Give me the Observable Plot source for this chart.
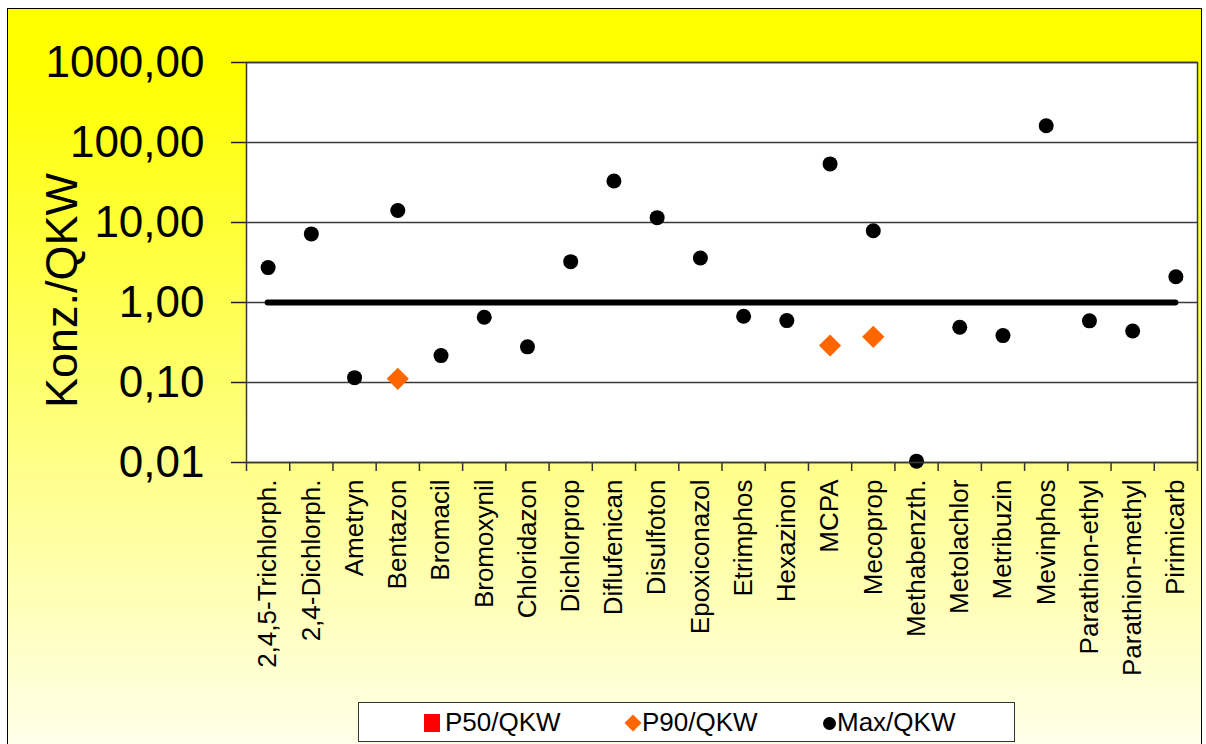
<!DOCTYPE html>
<html><head><meta charset="utf-8">
<script src="https://cdn.jsdelivr.net/npm/d3@7"></script>
<script src="https://cdn.jsdelivr.net/npm/@observablehq/plot@0.6"></script>
<style>
html,body{margin:0;padding:0;width:1206px;height:744px;overflow:hidden;background:#fff;font-family:"Liberation Sans",Arial,sans-serif;}
#bg{position:absolute;left:7px;top:8px;width:1193px;height:760px;border:1px solid #000;background:linear-gradient(to bottom,#ffff00 0%,#ffff00 8%,#fffff2 100%);}
#chart{position:absolute;left:0;top:0;}
#legend{position:absolute;left:358px;top:702px;width:655px;height:38px;border:1.5px solid #333;background:#fff;}
#legend .t{position:absolute;top:0;line-height:38px;font-size:26px;color:#000;white-space:nowrap;}
#legend .m{position:absolute;}
</style>
</head><body>
<div id="bg"></div>
<div id="chart"></div>
<div id="legend"></div>
<script>
const categories = ["2,4,5-Trichlorph.","2,4-Dichlorph.","Ametryn","Bentazon","Bromacil","Bromoxynil","Chloridazon","Dichlorprop","Diflufenican","Disulfoton","Epoxiconazol","Etrimphos","Hexazinon","MCPA","Mecoprop","Methabenzth.","Metolachlor","Metribuzin","Mevinphos","Parathion-ethyl","Parathion-methyl","Pirimicarb"];
const maxValues = [2.73,7.2,0.115,14.1,0.217,0.653,0.279,3.24,33,11.5,3.6,0.673,0.594,54,7.9,0.0104,0.49,0.386,162,0.59,0.44,2.1];
const p90Values = [null,null,null,0.111,null,null,null,null,null,null,null,null,null,0.29,0.372,null,null,null,null,null,null,null];
const p50Values = [null,null,null,null,null,null,null,null,null,null,null,null,null,null,null,null,null,null,null,null,null,null];
const yTicks = [0.01,0.1,1,10,100,1000];
const qkwLevel = 1;
const seriesNames = ["P50/QKW","P90/QKW","Max/QKW"];
const yTitle = "Konz./QKW";

const rows = categories.map((c,i)=>({c, i, max: maxValues[i], p90: p90Values[i], p50: p50Values[i]}));
const fmt = d => d3.format(".2f")(d).replace(".", ",");
const font = "'Liberation Sans', Arial, sans-serif";

const plot = Plot.plot({
  width: 1206, height: 700,
  marginTop: 62, marginLeft: 246, marginRight: 9, marginBottom: 238,
  style: {background: "transparent", fontFamily: font, overflow: "visible", color: "black"},
  x: {type: "linear", domain: [0, categories.length]},
  y: {type: "log", domain: [0.01, 1000]},
  marks: [
    Plot.frame({fill: "white", stroke: null}),
    Plot.ruleY(yTicks, {stroke: "#3a3a3a", strokeWidth: 1.5}),
    Plot.axisY({ticks: yTicks, tickFormat: () => "", tickSize: 15, label: null, strokeWidth: 1.5, color: "#222"}),
    Plot.text(yTicks, {y: d => d, text: fmt, frameAnchor: "left", textAnchor: "end", lineAnchor: "middle", dx: -42, fontSize: 44, fill: "black"}),
    Plot.axisX({ticks: d3.range(categories.length + 1), tickFormat: () => "", tickSize: 9, label: null, strokeWidth: 1.5, color: "#333"}),
    Plot.text(categories, {x: (d,i) => i + 0.5, frameAnchor: "bottom", rotate: -90, textAnchor: "end", lineAnchor: "middle", dy: 17, fontSize: 26, fill: "black"}),
    Plot.text([yTitle], {frameAnchor: "left", rotate: -90, textAnchor: "middle", lineAnchor: "bottom", dx: -170, dy: 28, fontSize: 45, fill: "black"}),
    Plot.ruleY([qkwLevel], {x1: 0.5, x2: categories.length - 0.5, stroke: "black", strokeWidth: 6, strokeLinecap: "round"}),
    Plot.dot(rows, {x: d => d.i + 0.5, y: "p50", symbol: "square", fill: "red", r: 8}),
    Plot.dot(rows, {x: d => d.i + 0.5, y: "p90", symbol: "diamond2", fill: "#ff6600", r: 10}),
    Plot.dot(rows, {x: d => d.i + 0.5, y: "max", fill: "black", r: 7.5}),
    Plot.frame({stroke: "#3a3a3a", strokeWidth: 1.5})
  ]
});
document.getElementById("chart").appendChild(plot);

const legend = document.getElementById("legend");
const markers = [
  {left: 65, top: 11, w: 16, h: 18, css: "background:#ff0000;"},
  {left: 267.5, top: 14, w: 12, h: 12, css: "background:#ff6600;transform:rotate(45deg);"},
  {left: 464, top: 13.5, w: 13, h: 13, css: "background:#000;border-radius:50%;"}
];
const textLeft = [86, 283, 478];
seriesNames.forEach((name, k) => {
  const m = document.createElement("div");
  m.className = "m";
  const s = markers[k];
  m.style.cssText = `left:${s.left}px;top:${s.top}px;width:${s.w}px;height:${s.h}px;${s.css}`;
  legend.appendChild(m);
  const t = document.createElement("div");
  t.className = "t";
  t.style.left = textLeft[k] + "px";
  t.textContent = name;
  legend.appendChild(t);
});
</script>
</body></html>
